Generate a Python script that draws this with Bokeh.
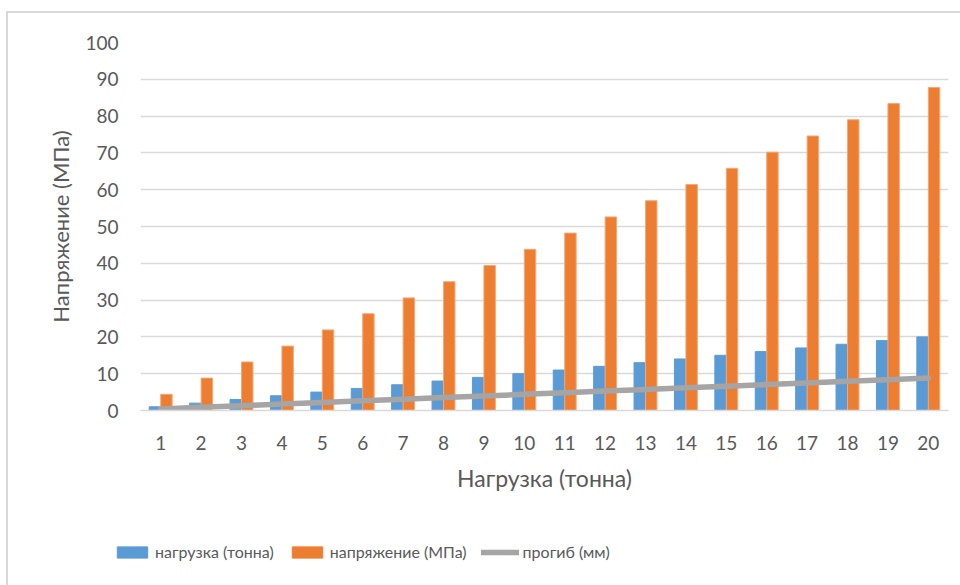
from bokeh.plotting import figure
from bokeh.layouts import column, row
from bokeh.models import (FactorRange, Range1d, Legend, LegendItem, ColumnDataSource,
                          SingleIntervalTicker)
from bokeh.transform import dodge
from bokeh.embed import file_html
from bokeh.resources import INLINE

# Load steps (tonnes) and measured response
steps = ["1", "2", "3", "4", "5", "6", "7", "8", "9", "10",
         "11", "12", "13", "14", "15", "16", "17", "18", "19", "20"]
load_t = [1, 2, 3, 4, 5, 6, 7, 8, 9, 10, 11, 12, 13, 14, 15, 16, 17, 18, 19, 20]
stress_mpa = [4.4, 8.8, 13.2, 17.5, 21.9, 26.3, 30.6, 35.0, 39.4, 43.8,
              48.2, 52.6, 57.0, 61.4, 65.8, 70.2, 74.6, 79.0, 83.4, 87.8]
deflection_mm = [0.44, 0.88, 1.32, 1.76, 2.2, 2.64, 3.08, 3.52, 3.96, 4.4,
                 4.84, 5.28, 5.72, 6.16, 6.6, 7.04, 7.48, 7.92, 8.36, 8.8]

series_labels = ["нагрузка (тонна)", "напряжение (МПа)", "прогиб (мм)"]
x_title = "Нагрузка (тонна)"
y_title = "Напряжение (МПа)"

FONT = "Lato"
TXT = "#595959"
GRID = "#d9d9d9"
C_LOAD, C_STRESS, C_DEFL = "#5B9BD5", "#ED7D31", "#A5A5A5"

src = ColumnDataSource(dict(step=steps, load=load_t, stress=stress_mpa, defl=deflection_mm))

p = figure(width=952, height=510, x_range=FactorRange(*steps), y_range=Range1d(0, 100),
           output_backend="svg", toolbar_location=None,
           min_border_left=132, min_border_right=12, min_border_top=29, min_border_bottom=113)
p.outline_line_color = None

bw = 0.283
p.vbar(x=dodge("step", -0.142, range=p.x_range), top="load", width=bw, source=src,
       fill_color=C_LOAD, line_color=C_LOAD)
p.vbar(x=dodge("step", 0.142, range=p.x_range), top="stress", width=bw, source=src,
       fill_color=C_STRESS, line_color="#F3A877", line_width=1)
p.line(x="step", y="defl", source=src, line_color=C_DEFL, line_width=5.5,
       line_cap="round", line_join="round")

# axes
p.yaxis.ticker = SingleIntervalTicker(interval=10)
p.ygrid.ticker = SingleIntervalTicker(interval=10)
p.ygrid.grid_line_color = GRID
p.ygrid.grid_line_width = 1.5
p.xgrid.grid_line_color = None

for ax in (p.xaxis[0], p.yaxis[0]):
    ax.major_tick_line_color = None
    ax.minor_tick_line_color = None
    ax.major_label_text_font = FONT
    ax.major_label_text_color = TXT
    ax.major_label_text_font_size = "19px"
    ax.axis_label_text_font = FONT
    ax.axis_label_text_color = TXT
    ax.axis_label_text_font_size = "22px"
    ax.axis_label_text_font_style = "normal"

p.yaxis.axis_line_color = None
p.yaxis.major_label_standoff = 16
p.yaxis.axis_label = y_title
p.yaxis.axis_label_standoff = 8

p.xaxis.axis_line_color = GRID
p.xaxis.axis_line_width = 1.5
p.xaxis.major_label_standoff = 19
p.xaxis.axis_label = x_title
p.xaxis.axis_label_text_font_size = "23px"
p.xaxis.axis_label_standoff = 11

# legend strip below the plot; its keys come from stand-in renderers styled like the series
lg = figure(width=952, height=62, x_range=Range1d(0, 1), y_range=Range1d(0, 1),
            output_backend="svg", toolbar_location=None,
            min_border_left=0, min_border_right=0, min_border_top=0, min_border_bottom=0)
lg.axis.visible = False
lg.grid.visible = False
lg.outline_line_color = None
key = ColumnDataSource(dict(x=[-5.0], y=[-5.0]))
k_load = lg.vbar(x="x", top="y", width=0.1, source=key, fill_color=C_LOAD, line_color=C_LOAD)
k_stress = lg.vbar(x="x", top="y", width=0.1, source=key, fill_color=C_STRESS, line_color=C_STRESS)
k_defl = lg.line(x="x", y="y", source=key, line_color=C_DEFL, line_width=5.5, line_cap="round")

legend = Legend(items=[LegendItem(label=series_labels[0], renderers=[k_load]),
                       LegendItem(label=series_labels[1], renderers=[k_stress]),
                       LegendItem(label=series_labels[2], renderers=[k_defl])],
                orientation="horizontal", location=(105, 24),
                glyph_width=38, glyph_height=14, label_standoff=4, spacing=14,
                padding=0, margin=0, border_line_color=None, background_fill_alpha=0,
                label_text_font=FONT, label_text_font_size="16px", label_text_color=TXT)
lg.add_layout(legend, "center")

page = column(p, row(lg, spacing=0), spacing=0, margin=(11, 0, 0, 6),
              styles={"border-top": f"2px solid {GRID}", "border-left": f"2px solid {GRID}"})

open("out.html", "w").write(file_html(page, INLINE))
